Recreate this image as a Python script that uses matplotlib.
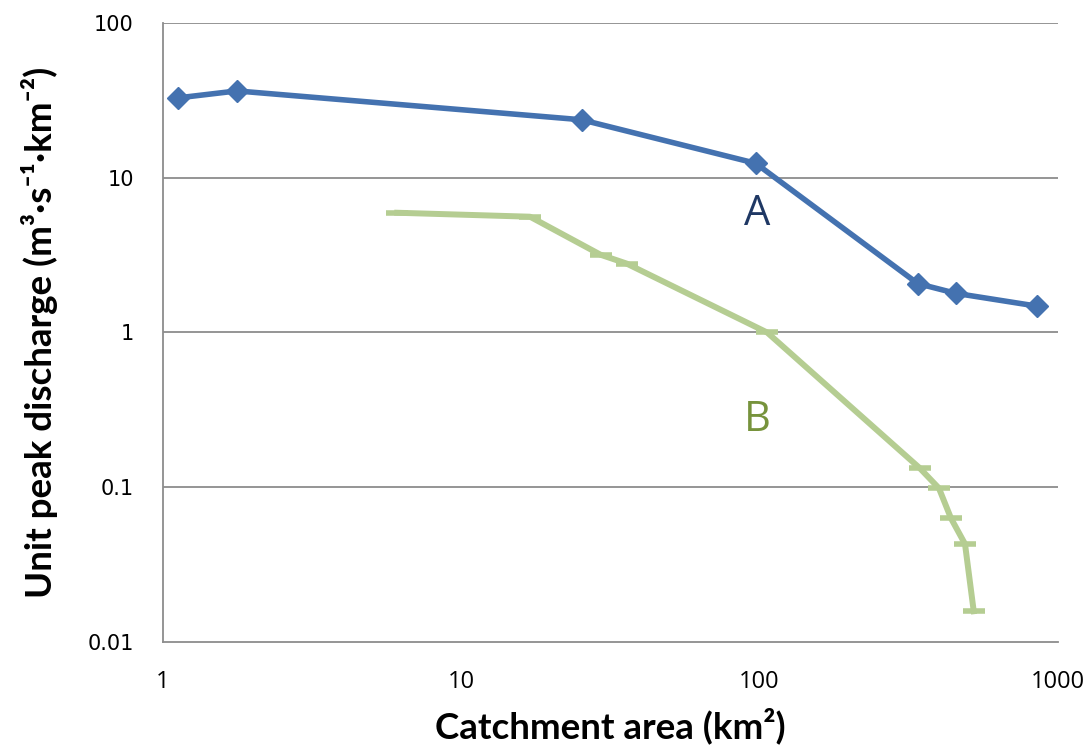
import matplotlib
matplotlib.use("Agg")
import matplotlib.pyplot as plt
from matplotlib.ticker import FixedLocator, FixedFormatter, NullLocator

# Data
area_a = [1.12, 1.77, 25.3, 97, 339, 455, 851]
q_a = [32.8, 36.4, 23.7, 12.4, 2.07, 1.79, 1.48]
area_b = [6.1, 17.0, 29.3, 35.8, 106, 344, 399, 438, 488, 522]
q_b = [5.94, 5.6, 3.18, 2.79, 1.0, 0.133, 0.0986, 0.063, 0.043, 0.0158]
xticks = [1, 10, 100, 1000]
xtick_labels = ["1", "10", "100", "1000"]
yticks = [0.01, 0.1, 1, 10, 100]
ytick_labels = ["0.01", "0.1", "1", "10", "100"]

fig = plt.figure(figsize=(10.9, 7.47), dpi=100)
ax = fig.add_axes([0.1495, 0.1406, 0.8211, 0.8286])
ax.set_xscale("log")
ax.set_yscale("log")
ax.set_xlim(1, 1000)
ax.set_ylim(0.01, 100)

for yv in [0.1, 1, 10, 100]:
    ax.axhline(yv, color="#8c8c8c", lw=1.3, zorder=1)

ax.plot(area_a, q_a, color="#4472b0", lw=4, marker="D", markersize=11,
        markerfacecolor="#4472b0", markeredgecolor="#4472b0", zorder=3, clip_on=False)
ax.plot(area_b, q_b, color="#b5cd92", lw=4.3, marker="_", markersize=16,
        markeredgewidth=4, markeredgecolor="#b5cd92", zorder=2, clip_on=False)

ax.text(98, 5.85, "A", color="#1f3864", fontsize=30, ha="center", va="center",
        family=["Open Sans", "DejaVu Sans"])
ax.text(98, 0.27, "B", color="#77933c", fontsize=30, ha="center", va="center",
        family=["Open Sans", "DejaVu Sans"])

for s in ["top", "right"]:
    ax.spines[s].set_visible(False)
for s in ["left", "bottom"]:
    ax.spines[s].set_color("#8c8c8c")
    ax.spines[s].set_linewidth(1.3)

ax.xaxis.set_major_locator(FixedLocator(xticks))
ax.xaxis.set_major_formatter(FixedFormatter(xtick_labels))
ax.xaxis.set_minor_locator(NullLocator())
ax.yaxis.set_major_locator(FixedLocator(yticks))
ax.yaxis.set_major_formatter(FixedFormatter(ytick_labels))
ax.yaxis.set_minor_locator(NullLocator())
ax.tick_params(axis="both", length=0)
ax.tick_params(axis="x", pad=20)
ax.tick_params(axis="y", pad=21)
for lab in ax.get_xticklabels():
    lab.set_family(["Liberation Sans Narrow", "Open Sans", "DejaVu Sans"])
    lab.set_fontsize(17)
for lab in ax.get_yticklabels():
    lab.set_family(["DejaVu Sans"])
    lab.set_fontsize(15)

ax.set_xlabel("Catchment area (km²)", fontsize=26.5, fontweight="bold",
              family=["Lato", "DejaVu Sans"], labelpad=10)
ax.set_ylabel("Unit peak discharge (m³·s⁻¹·km⁻²)", fontsize=26.5, fontweight="bold",
              family=["Lato", "DejaVu Sans"], labelpad=21)

fig.savefig("out.png", dpi=100)
